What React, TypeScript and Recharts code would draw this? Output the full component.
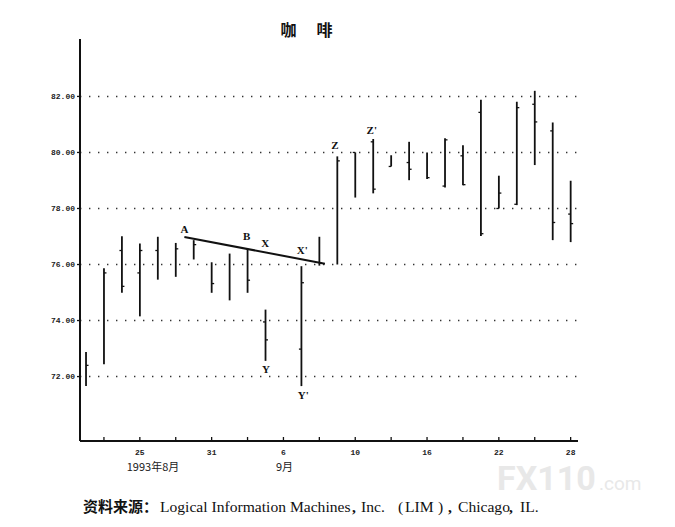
import React from "react";
import {
  ComposedChart,
  Bar,
  XAxis,
  YAxis,
  ReferenceLine,
  ReferenceDot,
} from "recharts";

// trading sessions on the time axis (slot 12 = Labor Day, no trading)
const sessions = [1, 2, 3, 4, 5, 6, 7, 8, 9, 10, 11, 13, 14, 15, 16, 17, 18, 19, 20, 21, 22, 23, 24, 25, 26, 27, 28];
const highs = [72.88, 75.87, 77.01, 76.75, 76.99, 76.77, 76.87, 76.08, 76.39, 76.56, 74.39, 75.94, 76.99, 79.86, 80.0, 80.48, 79.9, 80.38, 80.0, 80.51, 80.26, 81.88, 79.17, 81.81, 82.2, 81.07, 78.99];
const lows = [71.66, 72.44, 74.99, 74.15, 75.46, 75.56, 76.18, 74.99, 74.72, 74.99, 72.56, 71.66, 75.96, 76.0, 78.39, 78.54, 79.5, 79.01, 79.05, 78.75, 78.83, 77.02, 78.0, 78.12, 79.55, 76.87, 76.8];
const opens = [null, null, 76.5, 75.7, 76.5, null, null, null, null, null, 73.95, 72.98, null, null, 80.0, 80.38, 79.5, 79.64, null, 78.8, 79.88, 81.43, 78.0, 78.15, 81.72, 80.77, 77.8];
const closes = [72.4, 75.7, 75.22, 76.5, null, 76.56, 76.71, 75.32, null, 75.44, 73.31, 75.35, 76.05, 79.7, null, 78.69, null, 79.4, 79.1, 80.45, 78.85, 77.1, 78.55, 81.6, 81.09, 77.5, 77.46];

const yTicks = [72, 74, 76, 78, 80, 82];
const xTickSlots = [2, 4, 6, 8, 10, 12, 14, 16, 18, 20, 22, 24, 26, 28];
const xTickLabels = ["", "25", "", "31", "", "6", "", "10", "", "16", "", "22", "", "28"];

// chart annotations: letter, session, price
const markLabels = ["A", "B", "X", "X'", "Y", "Y'", "Z", "Z'"];
const markSlots = [6.48, 9.95, 10.99, 13.05, 11.03, 13.1, 14.87, 16.92];
const markPrices = [77.25, 77.01, 76.75, 76.51, 72.26, 71.33, 80.28, 80.79];

// trend line A -> X'
const trendFrom = { x: 6.48, y: 76.98 };
const trendTo = { x: 14.31, y: 76.03 };

const data = sessions.map((s, i) => ({
  slot: s,
  range: [lows[i], highs[i]],
  open: opens[i],
  close: closes[i],
}));

const OhlcBar = (props: any) => {
  const { x, y, width, height, payload } = props;
  if (!payload || !payload.range) return null;
  const cx = x + width / 2;
  const [lo, hi] = payload.range;
  const top = Math.min(y, y + height);
  const h = Math.abs(height);
  const yOf = (v: number) => top + ((hi - v) / (hi - lo)) * h;
  return (
    <g stroke="#111" strokeWidth={1.8}>
      <line x1={cx} x2={cx} y1={top} y2={top + h} />
      {payload.open != null && (
        <line x1={cx - 2.5} x2={cx} y1={yOf(payload.open)} y2={yOf(payload.open)} strokeWidth={1.3} />
      )}
      {payload.close != null && (
        <line x1={cx} x2={cx + 2.5} y1={yOf(payload.close)} y2={yOf(payload.close)} strokeWidth={1.3} />
      )}
    </g>
  );
};

const XTick = (props: any) => {
  const { x, y, payload } = props;
  const idx = xTickSlots.indexOf(payload.value);
  return (
    <g>
      <line x1={x} x2={x} y1={y - 4} y2={y} stroke="#111" strokeWidth={1.3} />
      <text
        x={x}
        y={y + 14}
        textAnchor="middle"
        fontSize={8}
        fontWeight="bold"
        fontFamily="'Liberation Mono', monospace"
        fill="#222"
      >
        {idx >= 0 ? xTickLabels[idx] : ""}
      </text>
    </g>
  );
};

const serif = "'Liberation Serif', serif";

export default function App() {
  return (
    <div style={{ position: "absolute", left: 0, top: 0, width: 675, height: 527, background: "#fff" }}>
      <ComposedChart
        width={675}
        height={527}
        data={data}
        margin={{ top: 39, right: 97, bottom: 56, left: 0 }}
      >
        <XAxis
          dataKey="slot"
          type="number"
          domain={[0.666, 28.41]}
          ticks={xTickSlots}
          allowDataOverflow
          interval={0}
          height={30}
          tickSize={0}
          tickMargin={0}
          tickLine={false}
          tick={<XTick />}
          axisLine={{ stroke: "#111", strokeWidth: 2 }}
        />
        <YAxis
          type="number"
          domain={[69.7, 84.05]}
          ticks={yTicks}
          allowDataOverflow
          width={80}
          tickSize={3}
          tickMargin={2}
          tickFormatter={(v: number) => v.toFixed(2)}
          tickLine={{ stroke: "#111", strokeWidth: 1.3 }}
          axisLine={{ stroke: "#111", strokeWidth: 2 }}
          tick={{
            fontSize: 8,
            fontWeight: "bold",
            fontFamily: "'Liberation Mono', monospace",
            fill: "#222",
          }}
        />
        {yTicks.map((v) => (
          <ReferenceLine
            key={v}
            y={v}
            stroke="#333"
            strokeWidth={1.4}
            strokeDasharray="1.4 7.6"
          />
        ))}
        <Bar
          dataKey="range"
          barSize={4}
          shape={<OhlcBar />}
          isAnimationActive={false}
        />
        <ReferenceLine
          segment={[trendFrom, trendTo]}
          stroke="#111"
          strokeWidth={2}
          ifOverflow="visible"
        />
        {markLabels.map((m, i) => (
          <ReferenceDot
            key={m}
            x={markSlots[i]}
            y={markPrices[i]}
            r={0}
            fill="none"
            stroke="none"
            ifOverflow="visible"
            label={{
              value: m,
              position: "center",
              fontSize: 11,
              fontWeight: "bold",
              fontFamily: serif,
              fill: "#111",
            }}
          />
        ))}
      </ComposedChart>
      <svg
        width={675}
        height={527}
        style={{ position: "absolute", left: 0, top: 0, pointerEvents: "none" }}
      >
        <text x={288.5} y={36} textAnchor="middle" fontSize={16} fontWeight="bold" fontFamily="'Noto Sans CJK SC'" fill="#111">
          咖
        </text>
        <text x={324.5} y={36} textAnchor="middle" fontSize={16} fontWeight="bold" fontFamily="'Noto Sans CJK SC'" fill="#111">
          啡
        </text>
        <text x={153} y={471} textAnchor="middle" fontSize={11} fontFamily="'Noto Sans CJK SC'" fill="#222">
          1993年8月
        </text>
        <text x={284.5} y={471} textAnchor="middle" fontSize={11} fontFamily="'Noto Sans CJK SC'" fill="#222">
          9月
        </text>
        <text x={497} y={490} fontSize={34} fontWeight="bold" fontFamily="Roboto" fill="#e8e8e8">
          FX110
        </text>
        <text x={599} y={490} fontSize={19} fontFamily="Roboto" fill="#e8e8e8">
          .com
        </text>
        <text y={512} fontSize={15.6} fill="#111" fontFamily={serif}>
          <tspan x={83} fontSize={15} fontWeight="bold" fontFamily="'Noto Sans CJK SC'">资料来源：</tspan>
          <tspan x={160}>Logical Information Machines</tspan>
          <tspan x={352} fontWeight="bold">,</tspan>
          <tspan x={361}>Inc.</tspan>
          <tspan x={398}>(</tspan>
          <tspan x={405}>LIM</tspan>
          <tspan x={438}>)</tspan>
          <tspan x={448} fontWeight="bold">,</tspan>
          <tspan x={458}>Chicago</tspan>
          <tspan x={509} fontWeight="bold">,</tspan>
          <tspan x={520}>IL.</tspan>
        </text>
      </svg>
    </div>
  );
}
